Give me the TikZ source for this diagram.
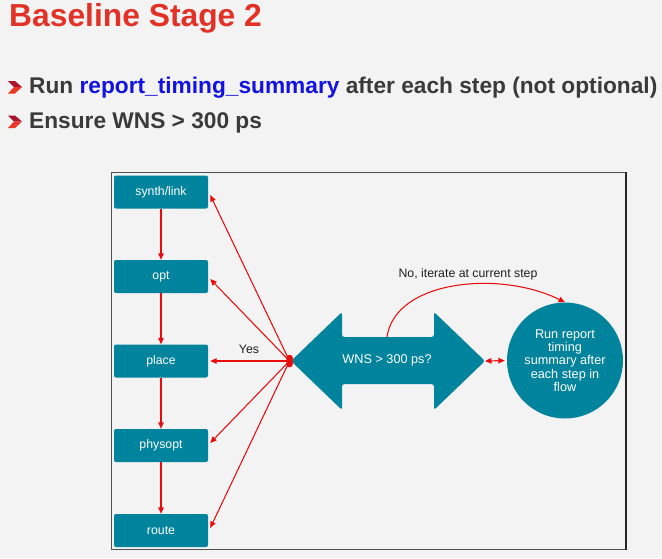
\documentclass[tikz,border=0pt]{standalone}
\usepackage{fontspec}
\setmainfont{Liberation Sans}
\usetikzlibrary{arrows.meta,calc}

\definecolor{pagebg}{RGB}{243,243,243}
\definecolor{flowteal}{RGB}{0,131,156}
\definecolor{titlered}{RGB}{226,50,40}
\definecolor{bodygray}{RGB}{58,58,58}
\definecolor{cmdblue}{RGB}{18,18,225}
\definecolor{linkred}{RGB}{232,12,12}
\definecolor{chevdark}{RGB}{170,20,45}
\definecolor{chevlight}{RGB}{235,55,40}
\definecolor{framegray}{RGB}{80,80,80}

\tikzset{
  stepbox/.style={fill=flowteal, rounded corners=2pt, minimum width=94pt,
    minimum height=33pt, inner sep=0pt, text=white,
    font=\fontsize{12.3}{14}\selectfont},
  tip/.tip={Triangle[length=6.5pt,width=5.5pt]},
  link/.style={draw=linkred, line width=1.05pt, -tip},
  lbl/.style={font=\fontsize{12.3}{14}\selectfont, text=black!88, inner sep=0pt},
  bullettext/.style={anchor=base west, inner sep=0pt, text=bodygray,
    font=\bfseries\fontsize{22.7}{26}\selectfont},
}

\newcommand{\chevron}[1]{%
  \fill[chevdark] (8,#1-6) -- (15,#1-6) -- (22,#1) -- (14,#1) -- cycle;
  \fill[chevlight] (14,#1) -- (22,#1) -- (15,#1+6.5) -- (8,#1+6.5) -- cycle;}

\begin{document}
\begin{tikzpicture}[x=1pt,y=-1pt]
  \useasboundingbox (0,0) rectangle (662,558);
  \fill[pagebg] (0,0) rectangle (662,558);

  % heading and bullet points
  \node[anchor=base west, inner sep=0pt, text=titlered,
        font=\bfseries\fontsize{31.8}{36}\selectfont] (title) at (9,26) {Baseline Stage 2};
  \chevron{87}
  \node[bullettext] (b1) at (29,93.5)
    {Run \textcolor{cmdblue}{report\_timing\_summary} after each step (not optional)};
  \chevron{121.5}
  \node[bullettext] (b2) at (29,128.5) {Ensure WNS > 300 ps};

  % diagram frame
  \draw[framegray, line width=1pt] (111,172.5) rectangle (626,549.5);
  \draw[black!85, line width=1.3pt] (626,172) -- (626,550);

  % flow steps
  \node[stepbox] (s1) at (161,192)   {synth/link};
  \node[stepbox] (s2) at (161,276.5) {opt};
  \node[stepbox] (s3) at (161,361)   {place};
  \node[stepbox] (s4) at (161,445.5) {physopt};
  \node[stepbox] (s5) at (161,530.5) {route};

  \draw[link] (s1) -- (s2);
  \draw[link] (s2) -- (s3);
  \draw[link] (s3) -- (s4);
  \draw[link] (s4) -- (s5);

  % timing check as a double-headed arrow
  \fill[flowteal, rounded corners=2.5pt]
    (291,361) -- (342,312) -- (342,337) -- (434,337) -- (434,312) -- (485,361)
    -- (434,410) -- (434,384) -- (342,384) -- (342,410) -- cycle;
  \node[text=white, font=\fontsize{12.7}{14}\selectfont] (check) at (387,360) {WNS > 300 ps?};
  \coordinate (rtip) at (485,361);
  \coordinate (arch) at (387,337);

  % report step
  \node[circle, fill=flowteal, minimum size=116pt, inner sep=0pt, text=white,
        align=center, font=\fontsize{12.7}{13.4}\selectfont] (sum) at (565,360.5)
    {Run report\\timing\\summary after\\each step in\\flow};

  % fan back to every step
  \node[fill=linkred, minimum width=6pt, minimum height=12pt, inner sep=0pt,
        rounded corners=2.5pt] (hub) at (289.5,361) {};
  \draw[link] (hub.center) -- ([xshift=2pt,yshift=-3pt]s1.east);
  \draw[link] (hub.center) -- ([xshift=2pt,yshift=-2.5pt]s2.east);
  \draw[link] (hub.center) -- ([xshift=2pt]s3.east);
  \draw[link] (hub.center) -- ([xshift=2pt,yshift=2.5pt]s4.east);
  \draw[link] (hub.center) -- ([xshift=2pt,yshift=2.5pt]s5.east);
  \node[fill=linkred, minimum width=6pt, minimum height=12pt, inner sep=0pt,
        rounded corners=2.5pt] at (hub) {};
  \node[lbl] (yes) at (249,349) {Yes};

  \draw[link, tip-tip, shorten >=2pt] (rtip) -- (sum.west);
  \draw[link] (arch) .. controls (395,280) and (500,270) .. (sum.north);
  \node[lbl] (nolbl) at (468,274) {No, iterate at current step};
\end{tikzpicture}
\end{document}
